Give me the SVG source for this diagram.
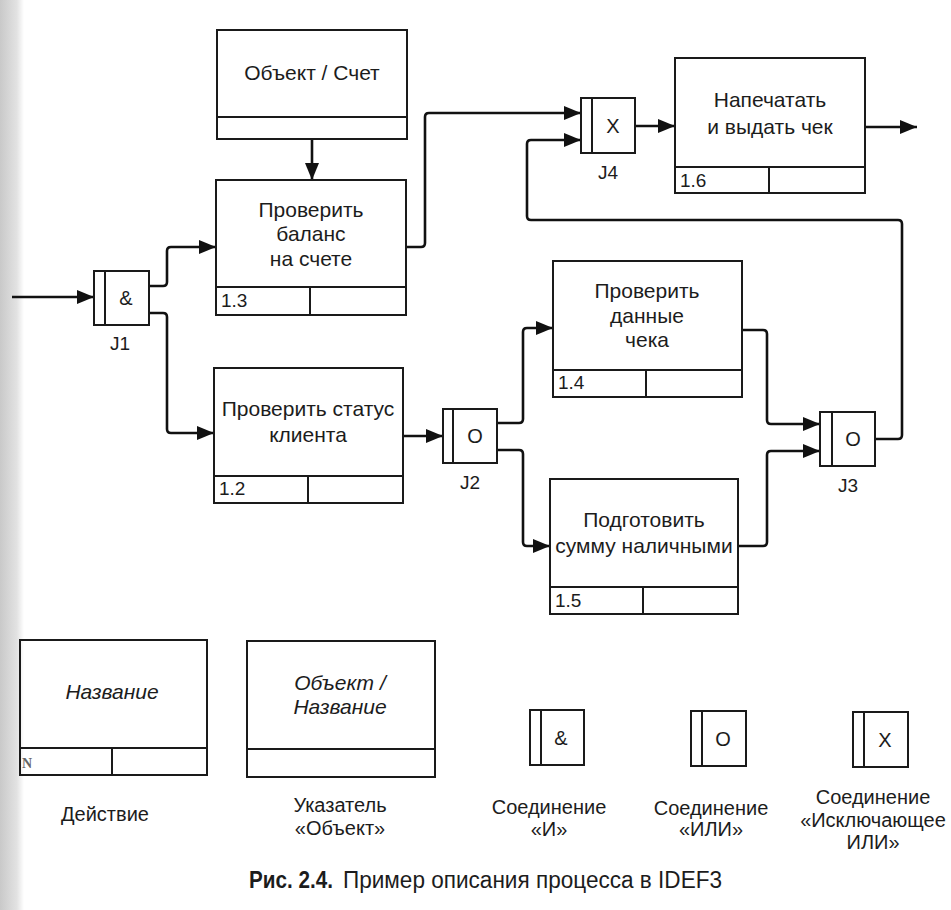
<svg xmlns="http://www.w3.org/2000/svg" width="951" height="910" viewBox="0 0 951 910">
<defs>
<linearGradient id="edge" x1="0" y1="0" x2="1" y2="0">
<stop offset="0" stop-color="#c9c9c9"/>
<stop offset="0.7" stop-color="#e2e2e2"/>
<stop offset="1" stop-color="#ffffff"/>
</linearGradient>
<marker id="arr" markerUnits="userSpaceOnUse" markerWidth="18" markerHeight="14" refX="17" refY="7" orient="auto">
<path d="M0,0 L17,7 L0,14 z" fill="#111"/>
</marker>
</defs>
<style>
.box{fill:none;stroke:#1a1a1a;stroke-width:2}
.ln{fill:none;stroke:#1a1a1a;stroke-width:2}
.con{fill:none;stroke:#111;stroke-width:2.6;stroke-linejoin:round}
.t{font-family:"Liberation Sans",Arial,sans-serif;font-size:20px;fill:#1c1c1c;text-anchor:middle}
.b{font-size:21px}
.it{font-style:italic}
.n{font-family:"Liberation Sans",Arial,sans-serif;font-size:19px;fill:#1c1c1c}
.j{font-family:"Liberation Sans",Arial,sans-serif;font-size:19px;fill:#1c1c1c;text-anchor:middle}
</style>
<rect x="0" y="0" width="951" height="910" fill="#ffffff"/>
<rect x="0" y="0" width="24" height="910" fill="url(#edge)"/>

<g id="connectors">
<path class="con" d="M12,297 H94" marker-end="url(#arr)"/>
<path class="con" d="M149,286 H163 Q167,286 167,282 V251 Q167,247 171,247 H216" marker-end="url(#arr)"/>
<path class="con" d="M149,313 H163 Q167,313 167,317 V429 Q167,433 171,433 H214" marker-end="url(#arr)"/>
<path class="con" d="M312,139 V180" marker-end="url(#arr)"/>
<path class="con" d="M406,247 H421 Q425,247 425,243 V117 Q425,113 429,113 H581" marker-end="url(#arr)"/>
<path class="con" d="M635,126 H675" marker-end="url(#arr)"/>
<path class="con" d="M865,127 H917" marker-end="url(#arr)"/>
<path class="con" d="M403,436 H443" marker-end="url(#arr)"/>
<path class="con" d="M497,423 H519 Q523,423 523,419 V332 Q523,328 527,328 H553" marker-end="url(#arr)"/>
<path class="con" d="M497,450 H519 Q523,450 523,454 V542 Q523,546 527,546 H550" marker-end="url(#arr)"/>
<path class="con" d="M742,330 H763 Q767,330 767,334 V420 Q767,424 771,424 H820" marker-end="url(#arr)"/>
<path class="con" d="M738,546 H763 Q767,546 767,542 V455 Q767,451 771,451 H820" marker-end="url(#arr)"/>
<path class="con" d="M875,439 H898 Q902,439 902,435 V224 Q902,220 898,220 H531 Q527,220 527,216 V144 Q527,140 531,140 H581" marker-end="url(#arr)"/>
</g>

<g id="obj-schet">
<rect class="box" x="217" y="30" width="190" height="109"/>
<line class="ln" x1="217" y1="117" x2="407" y2="117"/>
<text class="t b" x="312" y="80">Объект / Счет</text>
</g>

<g id="box-1.3">
<rect class="box" x="216" y="180" width="190" height="135"/>
<line class="ln" x1="216" y1="287" x2="406" y2="287"/>
<line class="ln" x1="310" y1="287" x2="310" y2="315"/>
<text class="t b" x="311" y="217">Проверить</text>
<text class="t b" x="311" y="241">баланс</text>
<text class="t b" x="311" y="266">на счете</text>
<text class="n" x="221" y="307">1.3</text>
</g>

<g id="box-1.2">
<rect class="box" x="214" y="368" width="189" height="135"/>
<line class="ln" x1="214" y1="476" x2="403" y2="476"/>
<line class="ln" x1="308" y1="476" x2="308" y2="503"/>
<text class="t b" x="308" y="416">Проверить статус</text>
<text class="t b" x="308" y="442">клиента</text>
<text class="n" x="219" y="495">1.2</text>
</g>

<g id="box-1.4">
<rect class="box" x="553" y="261" width="189" height="136"/>
<line class="ln" x1="553" y1="370" x2="742" y2="370"/>
<line class="ln" x1="646" y1="370" x2="646" y2="397"/>
<text class="t b" x="647" y="298">Проверить</text>
<text class="t b" x="647" y="323">данные</text>
<text class="t b" x="647" y="347">чека</text>
<text class="n" x="558" y="389">1.4</text>
</g>

<g id="box-1.5">
<rect class="box" x="550" y="479" width="188" height="135"/>
<line class="ln" x1="550" y1="587" x2="738" y2="587"/>
<line class="ln" x1="643" y1="587" x2="643" y2="614"/>
<text class="t b" x="644" y="527">Подготовить</text>
<text class="t b" x="644" y="553">сумму наличными</text>
<text class="n" x="555" y="607">1.5</text>
</g>

<g id="box-1.6">
<rect class="box" x="675" y="58" width="190" height="135"/>
<line class="ln" x1="675" y1="167" x2="865" y2="167"/>
<line class="ln" x1="769" y1="167" x2="769" y2="193"/>
<text class="t b" x="770" y="107">Напечатать</text>
<text class="t b" x="770" y="134">и выдать чек</text>
<text class="n" x="680" y="187">1.6</text>
</g>

<g id="J1">
<rect class="box" x="94" y="271" width="55" height="54"/>
<line class="ln" x1="105" y1="271" x2="105" y2="325"/>
<text class="t" x="126" y="305">&amp;</text>
<text class="j" x="120" y="350">J1</text>
</g>

<g id="J2">
<rect class="box" x="443" y="409" width="54" height="54"/>
<line class="ln" x1="453" y1="409" x2="453" y2="463"/>
<text class="t" x="475" y="443">O</text>
<text class="j" x="470" y="489">J2</text>
</g>

<g id="J3">
<rect class="box" x="820" y="412" width="55" height="54"/>
<line class="ln" x1="832" y1="412" x2="832" y2="466"/>
<text class="t" x="853" y="446">O</text>
<text class="j" x="848" y="492">J3</text>
</g>

<g id="J4">
<rect class="box" x="581" y="98" width="54" height="55"/>
<line class="ln" x1="592" y1="98" x2="592" y2="153"/>
<text class="t" x="613" y="133">X</text>
<text class="j" x="608" y="179">J4</text>
</g>

<g id="legend-action">
<rect class="box" x="20" y="640" width="187" height="135"/>
<line class="ln" x1="20" y1="748" x2="207" y2="748"/>
<line class="ln" x1="112" y1="748" x2="112" y2="775"/>
<text class="t it b" x="112" y="699">Название</text>
<text x="22" y="768" font-family="Liberation Serif,serif" font-size="14" font-weight="bold" fill="#666">N</text>
<text class="t" x="105" y="821">Действие</text>
</g>

<g id="legend-object">
<rect class="box" x="247" y="641" width="188" height="136"/>
<line class="ln" x1="247" y1="749" x2="435" y2="749"/>
<text class="t it b" x="340" y="690">Объект /</text>
<text class="t it b" x="340" y="714">Название</text>
<text class="t" x="340" y="812">Указатель</text>
<text class="t" x="340" y="835">«Объект»</text>
</g>

<g id="legend-and">
<rect class="box" x="530" y="710" width="54" height="55"/>
<line class="ln" x1="541" y1="710" x2="541" y2="765"/>
<text class="t" x="561" y="745">&amp;</text>
<text class="t" x="549" y="814">Соединение</text>
<text class="t" x="549" y="836">«И»</text>
</g>

<g id="legend-or">
<rect class="box" x="691" y="711" width="55" height="55"/>
<line class="ln" x1="702" y1="711" x2="702" y2="766"/>
<text class="t" x="723" y="746">O</text>
<text class="t" x="711" y="815">Соединение</text>
<text class="t" x="711" y="836">«ИЛИ»</text>
</g>

<g id="legend-xor">
<rect class="box" x="853" y="712" width="55" height="55"/>
<line class="ln" x1="864" y1="712" x2="864" y2="767"/>
<text class="t" x="885" y="747">X</text>
<text class="t" x="873" y="804">Соединение</text>
<text class="t" x="873" y="827">«Исключающее</text>
<text class="t" x="873" y="849">ИЛИ»</text>
</g>

<g id="caption">
<text x="249" y="888" font-family="Liberation Sans,Arial,sans-serif" font-size="24" font-weight="bold" fill="#1c1c1c" textLength="84" lengthAdjust="spacingAndGlyphs">Рис. 2.4.</text>
<text x="343" y="888" font-family="Liberation Sans,Arial,sans-serif" font-size="23" fill="#1c1c1c" textLength="379" lengthAdjust="spacingAndGlyphs">Пример описания процесса в IDEF3</text>
</g>
</svg>
